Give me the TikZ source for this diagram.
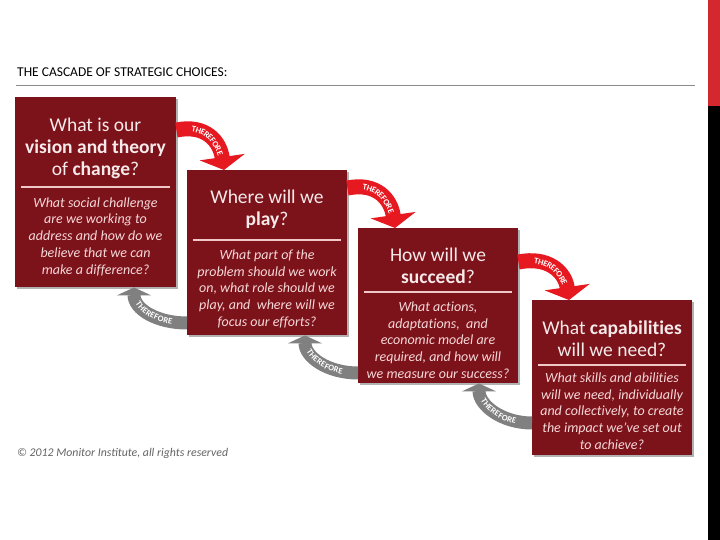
\documentclass[tikz,border=0pt]{standalone}
\usepackage{fontspec}
\setmainfont{Carlito}[Ligatures=NoCommon]
\newfontfamily\copyfont{Carlito}
\usetikzlibrary{arrows.meta,calc,shadows,decorations.text}
\definecolor{boxred}{RGB}{124,18,26}
\definecolor{arrred}{RGB}{230,24,32}
\definecolor{arrgray}{RGB}{128,128,128}
\definecolor{titlec}{RGB}{246,234,234}
\definecolor{subc}{RGB}{246,216,216}
\definecolor{divc}{RGB}{240,200,200}
\definecolor{hlinec}{RGB}{140,140,140}
\definecolor{barred}{RGB}{210,40,46}
\definecolor{copyc}{RGB}{100,100,100}
\newcommand{\fl}[1]{\rule{0pt}{#1}}
\begin{document}
\begin{tikzpicture}[x=1pt,y=-1pt,
  cbox/.style={fill=boxred, draw=none, minimum width=160pt, inner sep=0pt, anchor=north west,
    drop shadow={shadow xshift=2pt,shadow yshift=-2pt,fill=black,opacity=0.3}},
  ttl/.style={text=titlec, font=\fontsize{19.5}{22}\selectfont, align=center, inner sep=0pt, anchor=north},
  sub/.style={text=subc, font=\fontsize{14}{16.8}\selectfont\itshape, align=center, inner sep=0pt, anchor=north},
  divider/.style={draw=divc, line width=1.2pt},
  redarrow/.style={draw=arrred, line width=15pt, -{Triangle[length=13pt,width=45pt]}},
  grayarrow/.style={draw=arrgray, line width=13pt, -{Triangle[length=8pt,width=34pt]}},
  thtext/.style={decorate, decoration={text along path,
    text={|\color{white}\fontsize{8.5}{8.5}\selectfont\bfseries|THEREFORE},
    text align=center, raise=-2.8pt}}
]
\useasboundingbox (0,0) rectangle (720,540);
\fill[white] (0,0) rectangle (720,540);
% side bars
\fill[barred] (708,0) rectangle (720,106);
\fill[black] (708,106) rectangle (720,540);
% header
\node[anchor=base west, inner sep=0pt, font=\fontsize{13.5}{14}\selectfont] (hdr) at (17,76.5) {THE CASCADE OF STRATEGIC CHOICES:};
\coordinate (hl1) at (16,86);
\coordinate (hl2) at (695,86);
\draw[hlinec, line width=1pt] (hl1) -- (hl2);
% boxes
\node[cbox, minimum width=161pt, minimum height=190pt] (b1) at (15,97) {};
\node[cbox, minimum height=165pt] (b2) at (187,170) {};
\node[cbox, minimum height=155pt] (b3) at (358,228) {};
\node[cbox, minimum height=155pt] (b4) at (532,300) {};
% dividers
\draw[divider] ($(b1.north west)+(6,90)$) -- ($(b1.north east)+(-6,90)$);
\draw[divider] ($(b2.north west)+(6,70)$) -- ($(b2.north east)+(-6,70)$);
\draw[divider] ($(b3.north west)+(6,64)$) -- ($(b3.north east)+(-6,64)$);
\draw[divider] ($(b4.north west)+(6,65)$) -- ($(b4.north east)+(-6,65)$);
% titles
\node[ttl] (t1) at (95.5,113) {\fl{18pt}What is our\\\textbf{vision and theory}\\of \textbf{change}?};
\node[ttl] (t2) at (267,185) {\fl{18pt}Where will we\\\textbf{play}?};
\node[ttl] (t3) at (438,243) {\fl{18pt}How will we\\\textbf{succeed}?};
\node[ttl] (t4) at (612,316) {\fl{18pt}What \textbf{capabilities}\\will we need?};
% subtexts
\node[sub] (s1) at (95.5,193) {\fl{14pt}What social challenge\\are we working to\\address and how do we\\believe that we can\\make a difference?};
\node[sub] (s2) at (267,245) {\fl{14pt}What part of the\\problem should we work\\on, what role should we\\play, and~ where will we\\focus our efforts?};
\node[sub] (s3) at (438,297) {\fl{14pt}What actions,\\adaptations,~ and\\economic model are\\required, and how will\\we measure our success?};
\node[sub] (s4) at (612,368) {\fl{14pt}What skills and abilities\\will we need, individually\\and collectively, to create\\the impact we’ve set out\\to achieve?};
% red arrows
\coordinate (r1s) at ($(b1.north east)+(0,33)$);
\coordinate (r1e) at ($(b2.north west)+(37,0)$);
\coordinate (r2s) at ($(b2.north east)+(0,18)$);
\coordinate (r2e) at ($(b3.north west)+(37,0)$);
\coordinate (r3s) at ($(b3.north east)+(0,34)$);
\coordinate (r3e) at ($(b4.north west)+(37,0)$);
\foreach \s/\e in {r1s/r1e,r2s/r2e,r3s/r3e}{
  \draw[redarrow] (\s) .. controls +(30,-6) and +(-4,-28) .. (\e);
  \path[thtext] (\s) .. controls +(30,-6) and +(-4,-28) .. (\e);
}
% gray arrows
\coordinate (g1s) at ($(b2.north west)+(0,153)$);
\coordinate (g1e) at ($(b2.west |- b1.south)+(-53,0)$);
\coordinate (g2s) at ($(b3.north west)+(0,145)$);
\coordinate (g2e) at ($(b3.west |- b2.south)+(-53,0)$);
\coordinate (g3s) at ($(b4.north west)+(0,123)$);
\coordinate (g3e) at ($(b4.west |- b3.south)+(-53,0)$);
\foreach \s/\e in {g1s/g1e,g2s/g2e,g3s/g3e}{
  \draw[grayarrow] (\s) .. controls +(-30,0) and +(0,22) .. (\e);
  \path[thtext] (\e) .. controls +(0,22) and +(-30,0) .. (\s);
}
% copyright
\node[anchor=base west, inner sep=0pt, text=copyc, font=\copyfont\fontsize{11.8}{13}\selectfont\itshape] (copy) at (17,456) {© 2012 Monitor Institute, all rights reserved};
\end{tikzpicture}
\end{document}
